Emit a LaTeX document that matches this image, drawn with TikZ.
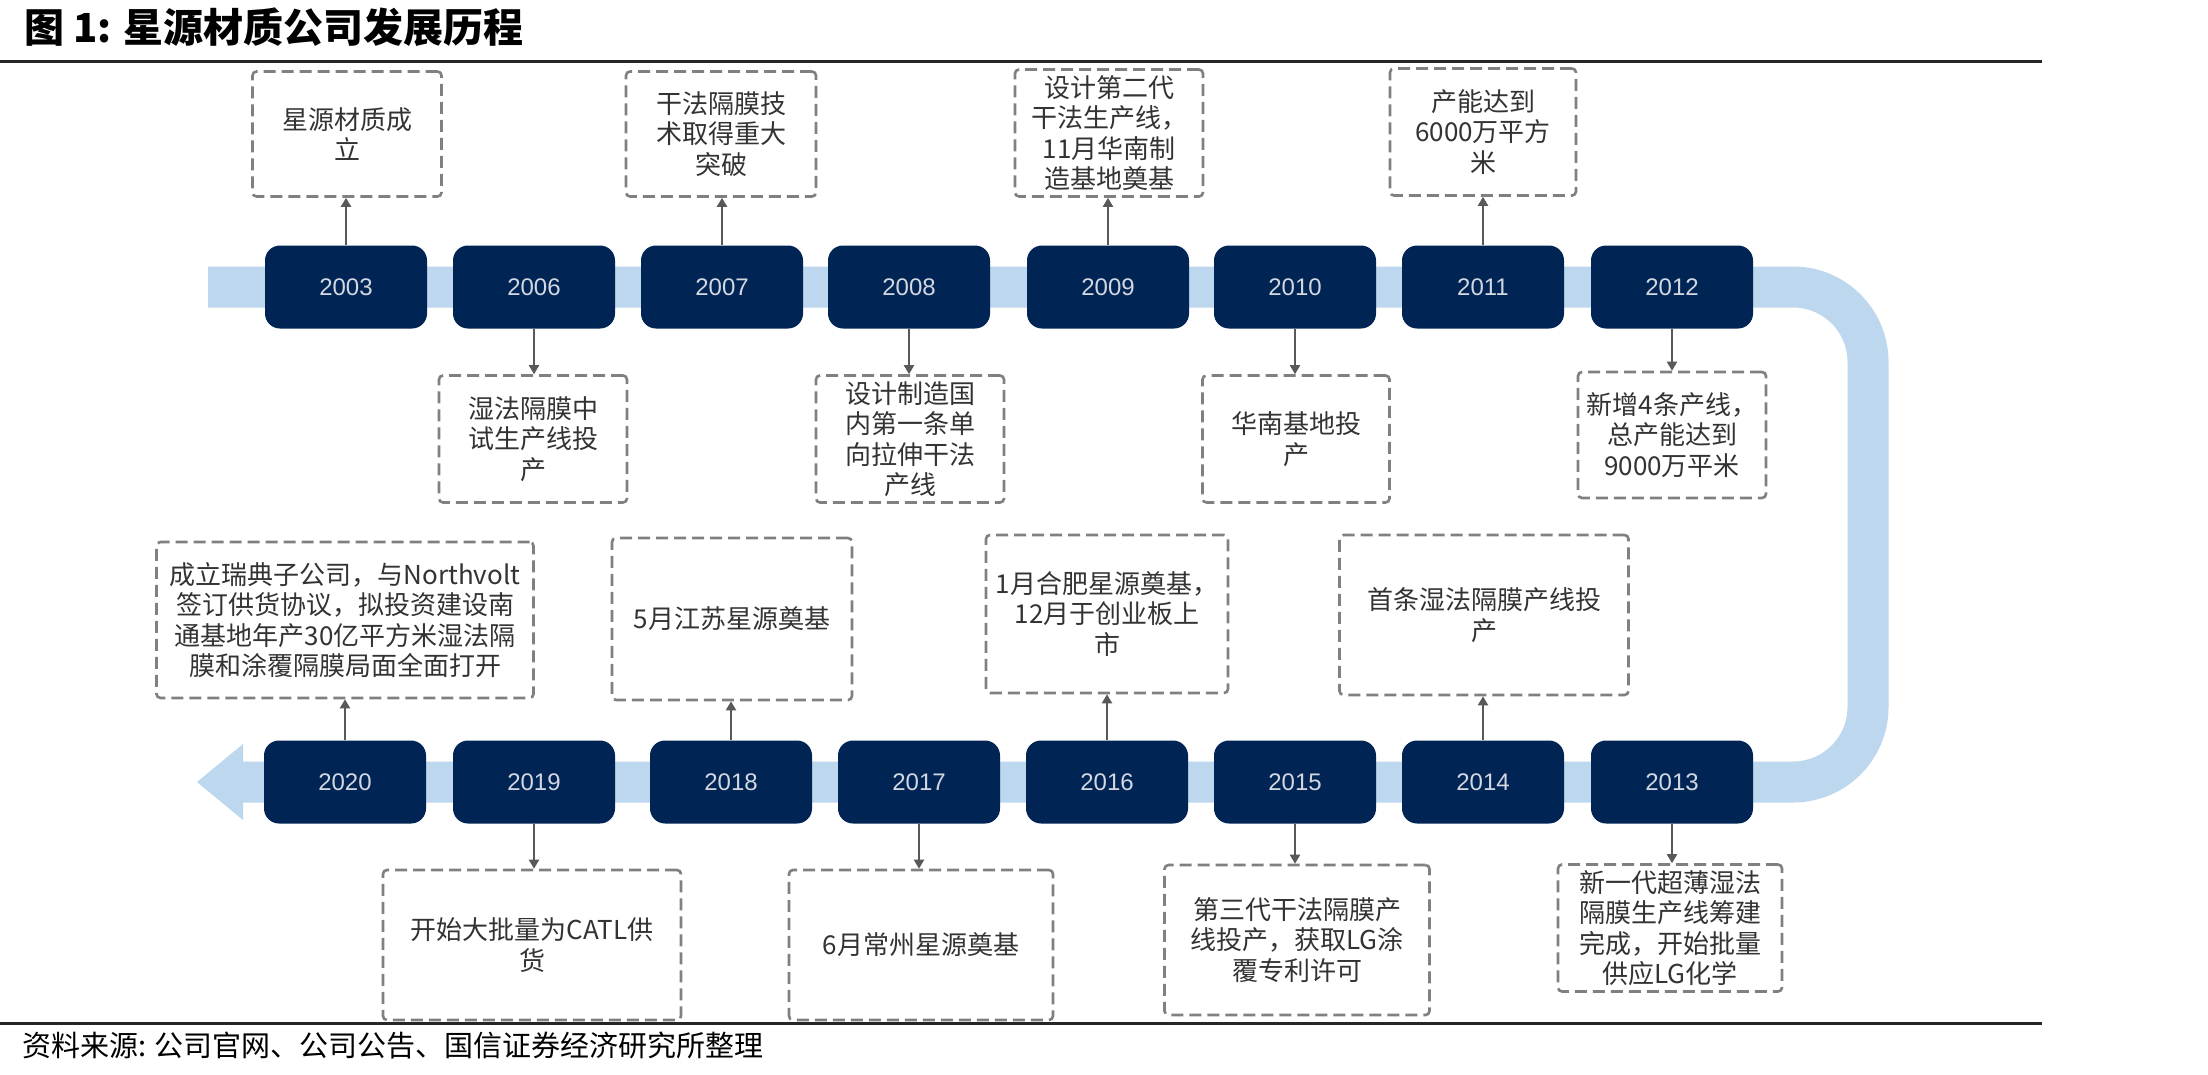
\documentclass[tikz,border=0pt]{standalone}
\usepackage{fontspec}
\setmainfont{Noto Sans CJK SC}
\newfontfamily\yearfont{Liberation Sans}
\usepackage{tikz}
\usetikzlibrary{arrows.meta}
\definecolor{navy}{RGB}{0,36,84}
\definecolor{band}{RGB}{189,215,238}
\definecolor{boxgray}{RGB}{128,128,128}
\definecolor{yeartext}{RGB}{210,215,225}

\begin{document}
\begin{tikzpicture}[x=1pt, y=-1pt,
  year/.style={fill=navy, rounded corners=15pt, minimum width=162pt, minimum height=83pt,
    text=yeartext, font=\yearfont\fontsize{24}{28}\selectfont},
  event/.style={draw=boxgray, line width=2.6pt, dash pattern=on 12pt off 6pt, rounded corners=4pt,
    align=center, inner sep=0pt, text=black!80, font=\fontsize{26}{30.5}\selectfont},
  link/.style={draw=black!65, line width=2pt, -{Triangle[width=10pt,length=9pt]}}]
  \useasboundingbox (0,0) rectangle (2208,1074);
  \fill[white] (0,0) rectangle (2208,1074);

  \node[anchor=west, inner sep=0pt, font=\bfseries\fontsize{40}{44}\selectfont]
    (title) at (24,27) {图 1: 星源材质公司发展历程};
  \draw[line width=3pt, black!85] (0,61) -- (2042,61);
  \draw[line width=3pt, black!85] (0,1023) -- (2042,1023);
  \node[anchor=west, inner sep=0pt, font=\fontsize{29}{32}\selectfont]
    (src) at (22,1045) {资料来源: 公司官网、公司公告、国信证券经济研究所整理};

  % timeline band
  \draw[color=band, line width=41pt, rounded corners=75pt] (208,287) -- (1868,287) -- (1868,782) -- (242,782);
  \fill[color=band] (243,744) -- (197,782) -- (243,820) -- cycle;

  % years, upper row
  \node[year] (y03) at (346,287) {2003};
  \node[year] (y06) at (534,287) {2006};
  \node[year] (y07) at (722,287) {2007};
  \node[year] (y08) at (909,287) {2008};
  \node[year] (y09) at (1108,287) {2009};
  \node[year] (y10) at (1295,287) {2010};
  \node[year] (y11) at (1483,287) {2011};
  \node[year] (y12) at (1672,287) {2012};
  % years, lower row
  \node[year] (y20) at (345,782) {2020};
  \node[year] (y19) at (534,782) {2019};
  \node[year] (y18) at (731,782) {2018};
  \node[year] (y17) at (919,782) {2017};
  \node[year] (y16) at (1107,782) {2016};
  \node[year] (y15) at (1295,782) {2015};
  \node[year] (y14) at (1483,782) {2014};
  \node[year] (y13) at (1672,782) {2013};

  % events
  \node[event, minimum width=189pt, minimum height=125pt] (n03) at (347,134) {星源材质成\\立};
  \node[event, minimum width=190pt, minimum height=125pt] (n07) at (721,134) {干法隔膜技\\术取得重大\\突破};
  \node[event, minimum width=188pt, minimum height=127pt] (n09) at (1109,133) {设计第二代\\干法生产线，\\11月华南制\\造基地奠基};
  \node[event, minimum width=186pt, minimum height=127pt] (n11) at (1483,132) {产能达到\\6000万平方\\米};

  \node[event, minimum width=188pt, minimum height=127pt] (n06) at (533,439) {湿法隔膜中\\试生产线投\\产};
  \node[event, minimum width=188pt, minimum height=127pt] (n08) at (910,439) {设计制造国\\内第一条单\\向拉伸干法\\产线};
  \node[event, minimum width=187pt, minimum height=127pt] (n10) at (1296,439) {华南基地投\\产};
  \node[event, minimum width=188pt, minimum height=126pt] (n12) at (1672,435) {新增4条产线，\\总产能达到\\9000万平米};

  \node[event, minimum width=377pt, minimum height=156pt] (n20) at (345,620) {成立瑞典子公司，与Northvolt\\签订供货协议，拟投资建设南\\通基地年产30亿平方米湿法隔\\膜和涂覆隔膜局面全面打开};
  \node[event, minimum width=240pt, minimum height=162pt] (n18) at (732,619) {5月江苏星源奠基};
  \node[event, minimum width=242pt, minimum height=158pt] (n16) at (1107,614) {1月合肥星源奠基，\\12月于创业板上\\市};
  \node[event, minimum width=289pt, minimum height=160pt] (n14) at (1484,615) {首条湿法隔膜产线投\\产};

  \node[event, minimum width=298pt, minimum height=150pt] (n19) at (532,945) {开始大批量为CATL供\\货};
  \node[event, minimum width=264pt, minimum height=150pt] (n17) at (921,945) {6月常州星源奠基};
  \node[event, minimum width=265pt, minimum height=150pt] (n15) at (1297,940) {第三代干法隔膜产\\线投产，获取LG涂\\覆专利许可};
  \node[event, minimum width=224pt, minimum height=127pt] (n13) at (1670,928) {新一代超薄湿法\\隔膜生产线筹建\\完成，开始批量\\供应LG化学};

  % links
  \draw[link] (y03) -- (y03 |- n03.south);
  \draw[link] (y07) -- (y07 |- n07.south);
  \draw[link] (y09) -- (y09 |- n09.south);
  \draw[link] (y11) -- (y11 |- n11.south);
  \draw[link] (y06) -- (y06 |- n06.north);
  \draw[link] (y08) -- (y08 |- n08.north);
  \draw[link] (y10) -- (y10 |- n10.north);
  \draw[link] (y12) -- (y12 |- n12.north);
  \draw[link] (y20) -- (y20 |- n20.south);
  \draw[link] (y18) -- (y18 |- n18.south);
  \draw[link] (y16) -- (y16 |- n16.south);
  \draw[link] (y14) -- (y14 |- n14.south);
  \draw[link] (y19) -- (y19 |- n19.north);
  \draw[link] (y17) -- (y17 |- n17.north);
  \draw[link] (y15) -- (y15 |- n15.north);
  \draw[link] (y13) -- (y13 |- n13.north);
\end{tikzpicture}
\end{document}
